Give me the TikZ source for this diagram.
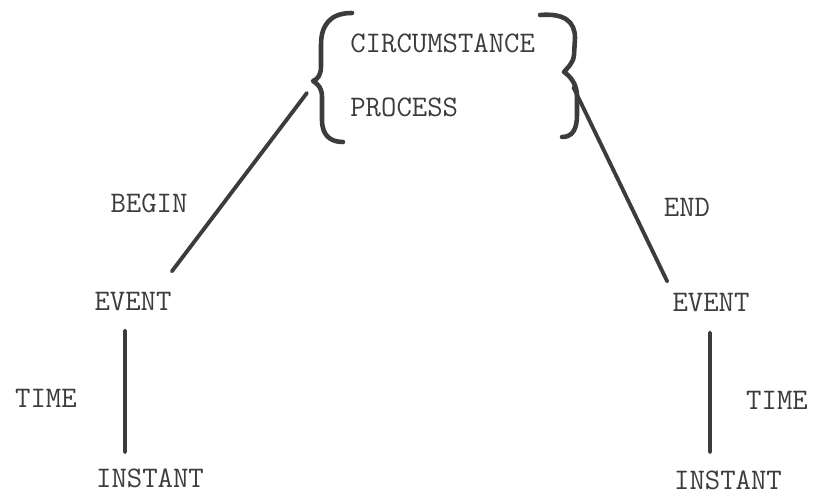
\documentclass[tikz,border=0pt]{standalone}
\usetikzlibrary{positioning}

\definecolor{ink}{RGB}{60,60,60}

\begin{document}
\begin{tikzpicture}[
    x=0.02cm, y=-0.02cm,
    every node/.style={inner sep=0pt, text=ink, font=\fontsize{17}{20}\selectfont\ttfamily},
    link/.style={draw=ink, line width=2.2pt, line cap=round},
    brace/.style={draw=ink, line width=2.6pt, line cap=round, line join=round}
]
   \useasboundingbox (0,0) rectangle (817,496);

   % States
   \node[anchor=west] (circ) at (350,43) {CIRCUMSTANCE};
   \node[anchor=west] (proc) at (350,107) {PROCESS};
   \node (evl) at (133,302) {EVENT};
   \node (evr) at (711,303) {EVENT};
   \node (insl) at (150,478) {INSTANT};
   \node (insr) at (728,480) {INSTANT};

   % Labels
   \node (begin) at (149,203) {BEGIN};
   \node (end) at (687,207) {END};
   \node (timel) at (46,398) {TIME};
   \node (timer) at (777,400) {TIME};

   % Braces round the two states
   \coordinate (lbrace) at (316,81);
   \coordinate (rbrace) at (566,72);
   \path[brace] (352,13) .. controls (330,13) and (321,25) .. (321,45) -- (321,66)
       .. controls (321,75) and (318,79) .. (313,81)
       .. controls (318,84) and (322,88) .. (322,97) -- (322,120)
       .. controls (322,135) and (330,142) .. (343,142);
   \path[brace] (540,15) .. controls (565,13) and (575,22) .. (575,38) -- (574,55)
       .. controls (573,64) and (567,68) .. (564,72)
       .. controls (570,76) and (577,84) .. (577,96) -- (577,115)
       .. controls (577,130) and (572,137) .. (562,137);

   % Links
   \path[link, shorten <=0.3cm] (lbrace) -- ([yshift=0.42cm]evl.north east);
   \path[link, shorten <=0.34cm] (rbrace) -- ([xshift=-0.1cm, yshift=0.24cm]evr.north west);
   \path[link] ([xshift=-0.16cm, yshift=-0.38cm]evl.south) -- ([xshift=-0.5cm, yshift=0.32cm]insl.north);
   \path[link] ([xshift=-0.02cm, yshift=-0.4cm]evr.south) -- ([xshift=-0.36cm, yshift=0.36cm]insr.north);

\end{tikzpicture}
\end{document}
